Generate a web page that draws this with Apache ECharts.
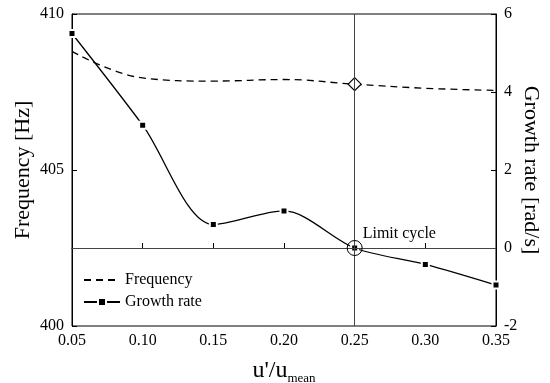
<!DOCTYPE html>
<html>
<head>
<meta charset="utf-8">
<script src="https://cdn.jsdelivr.net/npm/echarts@6/dist/echarts.min.js"></script>
<style>
  html, body { margin: 0; padding: 0; background: #fff; }
  #chart { width: 550px; height: 383px; }
</style>
</head>
<body>
<div id="chart"></div>
<script>
// u'/u_mean sweep: flame frequency and growth rate
var ratio = [0.05, 0.10, 0.15, 0.20, 0.25, 0.30, 0.35];
var frequency = [408.8, 407.95, 407.85, 407.9, 407.75, 407.62, 407.55];
var growthRate = [5.5, 3.15, 0.6, 0.95, 0, -0.42, -0.95];
var limitCycleX = 0.25;

var FONT = "Liberation Serif";
var chart = echarts.init(document.getElementById("chart"), null, { renderer: "canvas" });

function pairs(ys) {
  return ratio.map(function (x, i) { return [x, ys[i]]; });
}

var freqData = ratio.map(function (x, i) {
  var d = { value: [x, frequency[i]] };
  if (x === limitCycleX) {
    d.symbol = "diamond";
    d.symbolSize = 13;
  } else {
    d.symbol = "none";
  }
  return d;
});
var lcIdx = ratio.indexOf(limitCycleX);

var axisCommon = {
  axisLine: { lineStyle: { color: "#000", width: 1 } },
  axisTick: { inside: true, length: 5, lineStyle: { color: "#000" } },
  axisLabel: { color: "#000", fontFamily: FONT, fontSize: 16 },
  splitLine: { show: false },
  nameMoveOverlap: false,
};

chart.setOption({
  backgroundColor: "#fff",
  animation: false,
  grid: {
    left: 72, right: 54, top: 14, bottom: 57,
    outerBoundsMode: "none",
    show: true, borderColor: "#000", borderWidth: 1,
  },
  legend: {
    orient: "vertical",
    left: 78, top: 267,
    itemWidth: 36, itemHeight: 10, itemGap: 6,
    textStyle: { fontFamily: FONT, fontSize: 16, color: "#000" },
    data: [
      { name: "Frequency", itemStyle: { opacity: 0 } },
      "Growth rate",
    ],
  },
  xAxis: Object.assign({}, axisCommon, {
    type: "value", min: 0.05, max: 0.35, interval: 0.05,
    axisLabel: Object.assign({}, axisCommon.axisLabel, {
      margin: 7,
      formatter: function (v) { return v.toFixed(2); },
    }),
    name: "u'/u{s|mean}", nameLocation: "middle", nameGap: 30,
    nameTextStyle: {
      fontFamily: FONT, fontSize: 24, color: "#000",
      rich: { s: { fontFamily: FONT, fontSize: 13, color: "#000", padding: [16, 0, 0, 0] } },
    },
  }),
  yAxis: [
    Object.assign({}, axisCommon, {
      type: "value", min: 400, max: 410, interval: 5, position: "left",
      name: "Frequency [Hz]", nameLocation: "middle", nameGap: 38, nameRotate: 90,
      nameTextStyle: { fontFamily: FONT, fontSize: 22, color: "#000" },
    }),
    Object.assign({}, axisCommon, {
      type: "value", min: -2, max: 6, interval: 2, position: "right",
      name: "Growth rate [rad/s]", nameLocation: "middle", nameGap: 24, nameRotate: -90,
      nameTextStyle: { fontFamily: FONT, fontSize: 22, color: "#000" },
    }),
  ],
  series: [
    {
      name: "Frequency", type: "line", yAxisIndex: 0,
      data: freqData, smooth: 0.4, showSymbol: true,
      symbol: "none",
      lineStyle: { color: "#000", width: 1.3, type: [7, 5] },
      itemStyle: { color: "#fff", borderColor: "#000", borderWidth: 1.2 },
      markLine: {
        silent: true, symbol: "none", label: { show: false },
        lineStyle: { color: "#444", width: 1, type: "solid" },
        data: [{ xAxis: limitCycleX }],
      },
      z: 3,
    },
    {
      name: "Growth rate", type: "line", yAxisIndex: 1,
      data: pairs(growthRate), smooth: 0.3,
      symbol: "rect", symbolSize: 7,
      lineStyle: { color: "#000", width: 1.3 },
      itemStyle: { color: "#000", borderColor: "#fff", borderWidth: 2 },
      markLine: {
        silent: true, symbol: "none", label: { show: false },
        lineStyle: { color: "#444", width: 1, type: "solid" },
        data: [{ yAxis: 0 }],
      },
      z: 4,
    },
    {
      name: "limit", type: "scatter", yAxisIndex: 1,
      data: [[limitCycleX, growthRate[lcIdx]]],
      symbol: "circle", symbolSize: 15,
      itemStyle: { color: "rgba(0,0,0,0)", borderColor: "#000", borderWidth: 1, opacity: 1 },
      label: {
        show: true, formatter: "Limit cycle", position: "right",
        offset: [-5, -14], opacity: 1, textBorderWidth: 0,
        fontFamily: FONT, fontSize: 16, color: "#000",
      },
      z: 5,
    },
  ],
});
</script>
</body>
</html>
